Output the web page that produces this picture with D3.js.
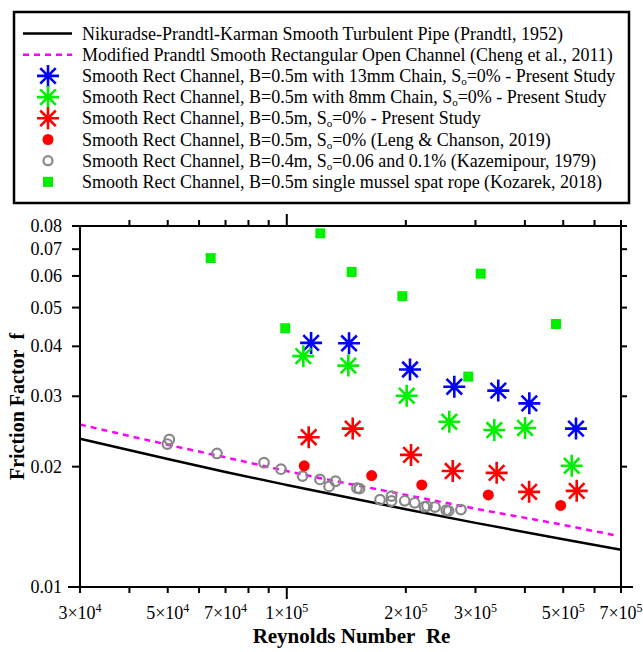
<!DOCTYPE html>
<html><head><meta charset="utf-8">
<script src="https://cdn.jsdelivr.net/npm/d3@7"></script>
<style>
html,body{margin:0;padding:0;background:#fff;}
svg{display:block;font-family:"Liberation Serif","Times New Roman",serif;}
</style></head>
<body>
<svg id="chart" width="643" height="652"></svg>
<script>
// ---- data ----
const reLine = [3e4, 5e4, 7e4, 1e5, 2e5, 3e5, 5e5, 7e5];
const fPrandtl = [0.0235, 0.0209, 0.0194, 0.0180, 0.01565, 0.01447, 0.01316, 0.01239];
const reCheng = [3e4, 5e4, 7e4, 1e5, 2e5, 3e5, 5e5, 6.8e5];
const fCheng = [0.0255, 0.0227, 0.0211, 0.0195, 0.0170, 0.0157, 0.0143, 0.01345];

const reChain13 = [115200, 143700, 204900, 265200, 342600, 410500, 538600];
const fChain13  = [0.0408, 0.0407, 0.0350, 0.0317, 0.0310, 0.0288, 0.0249];

const reChain8 = [110100, 143100, 201000, 257600, 334700, 400400, 525400];
const fChain8  = [0.0378, 0.0358, 0.0301, 0.0259, 0.0247, 0.0250, 0.0201];

const reSmooth = [113600, 146800, 206100, 262800, 339400, 409900, 540900];
const fSmooth  = [0.0237, 0.0249, 0.0214, 0.0195, 0.0193, 0.0173, 0.0174];

const reLeng = [110700, 163900, 219400, 323300, 492700];
const fLeng  = [0.0201, 0.0190, 0.0180, 0.0170, 0.0160];

const reKaz = [49880, 50460, 66600, 87580, 96700, 109600, 121300, 127900, 132800, 150500, 152700,
               172100, 184000, 184000, 198700, 210600, 222900, 226200, 237000, 253100, 256600, 275700];
const fKaz  = [0.02278, 0.02339, 0.02158, 0.02046, 0.01971, 0.01894, 0.01858, 0.01785, 0.01839, 0.01767, 0.01762,
               0.01654, 0.01688, 0.01641, 0.01643, 0.01624, 0.01587, 0.01594, 0.01585, 0.01556, 0.01550, 0.01562];

const reKoz = [64200, 99100, 121600, 145900, 196000, 287700, 309300, 479500];
const fKoz  = [0.0665, 0.0444, 0.0767, 0.0614, 0.0534, 0.0336, 0.0608, 0.0455];

const xTicks = [3e4, 4e4, 5e4, 6e4, 7e4, 8e4, 9e4, 1e5, 2e5, 3e5, 4e5, 5e5, 6e5, 7e5];
const xTickLabels = [[3e4, "3", "4"], [5e4, "5", "4"], [7e4, "7", "4"], [1e5, "1", "5"],
                     [2e5, "2", "5"], [3e5, "3", "5"], [5e5, "5", "5"], [7e5, "7", "5"]];
const yTicks = [0.01, 0.02, 0.03, 0.04, 0.05, 0.06, 0.07, 0.08];
const yTickLabels = ["0.01", "0.02", "0.03", "0.04", "0.05", "0.06", "0.07", "0.08"];

const legendLabels = [
  "Nikuradse-Prandtl-Karman Smooth Turbulent Pipe (Prandtl, 1952)",
  "Modified Prandtl Smooth Rectangular Open Channel (Cheng et al., 2011)",
  ["Smooth Rect Channel, B=0.5m with 13mm Chain, S", "o", "=0% - Present Study"],
  ["Smooth Rect Channel, B=0.5m with 8mm Chain, S", "o", "=0% - Present Study"],
  ["Smooth Rect Channel, B=0.5m, S", "o", "=0% - Present Study"],
  ["Smooth Rect Channel, B=0.5m, S", "o", "=0% (Leng & Chanson, 2019)"],
  ["Smooth Rect Channel, B=0.4m, S", "o", "=0.06 and 0.1% (Kazemipour, 1979)"],
  "Smooth Rect Channel, B=0.5m single mussel spat rope (Kozarek, 2018)"
];

// ---- layout ----
const L = 80, R = 621, T = 226, B = 587;
const svg = d3.select("#chart");
const x = d3.scaleLog().domain([3e4, 7e5]).range([L, R]);
const y = d3.scaleLog().domain([0.01, 0.08]).range([B, T]);

const BLUE = "#0000ff", GREEN = "#00f000", RED = "#ff0000", GRAY = "#888888", MAG = "#ff00ff";

function asterisk(sel, color) {
  const r = 11, d = r * Math.SQRT1_2;
  sel.append("path")
    .attr("d", `M${-r},0H${r}M0,${-r}V${r}M${-d},${-d}L${d},${d}M${-d},${d}L${d},${-d}`)
    .attr("stroke", color).attr("stroke-width", 2.6).attr("fill", "none");
}

// ---- lines ----
const line = d3.line().x(d => x(d[0])).y(d => y(d[1])).curve(d3.curveMonotoneX);
svg.append("path").datum(reLine.map((r, i) => [r, fPrandtl[i]]))
  .attr("d", line).attr("fill", "none").attr("stroke", "#000").attr("stroke-width", 2.5);
svg.append("path").datum(reCheng.map((r, i) => [r, fCheng[i]]))
  .attr("d", line).attr("fill", "none").attr("stroke", MAG).attr("stroke-width", 2.5)
  .attr("stroke-dasharray", "6,5");

// ---- markers ----
svg.append("g").selectAll("circle").data(reKaz.map((r, i) => [r, fKaz[i]])).join("circle")
  .attr("cx", d => x(d[0])).attr("cy", d => y(d[1])).attr("r", 4.8)
  .attr("fill", "none").attr("stroke", GRAY).attr("stroke-width", 2.2);
svg.append("g").selectAll("circle").data(reLeng.map((r, i) => [r, fLeng[i]])).join("circle")
  .attr("cx", d => x(d[0])).attr("cy", d => y(d[1])).attr("r", 5.5).attr("fill", RED);
svg.append("g").selectAll("rect").data(reKoz.map((r, i) => [r, fKoz[i]])).join("rect")
  .attr("x", d => x(d[0]) - 5).attr("y", d => y(d[1]) - 5).attr("width", 10).attr("height", 10)
  .attr("fill", GREEN);
[[reChain13, fChain13, BLUE], [reChain8, fChain8, GREEN], [reSmooth, fSmooth, RED]].forEach(([rs, fs, c]) => {
  svg.append("g").selectAll("g").data(rs.map((r, i) => [r, fs[i]])).join("g")
    .attr("transform", d => `translate(${x(d[0])},${y(d[1])})`)
    .each(function () { asterisk(d3.select(this), c); });
});

// ---- axes ----
const axG = svg.append("g").attr("stroke", "#000").attr("stroke-width", 2);
axG.append("rect").attr("x", L).attr("y", T).attr("width", R - L).attr("height", B - T).attr("fill", "none");
xTicks.forEach(t => {
  const major = t === 1e5;
  axG.append("line").attr("x1", x(t)).attr("x2", x(t)).attr("y1", B).attr("y2", B + (major ? 12 : 6));
  if (t !== 3e4) axG.append("line").attr("x1", x(t)).attr("x2", x(t)).attr("y1", T).attr("y2", T - (major ? 12 : 6));
});
yTicks.forEach(t => {
  const major = t === 0.01;
  axG.append("line").attr("x1", L).attr("x2", L - (major ? 12 : 8)).attr("y1", y(t)).attr("y2", y(t));
  axG.append("line").attr("x1", R).attr("x2", R + (major ? 12 : 6)).attr("y1", y(t)).attr("y2", y(t));
});

// tick labels
yTicks.forEach((t, i) => {
  svg.append("text").attr("x", 62).attr("y", y(t) + 6).attr("text-anchor", "end")
    .attr("font-size", 18).text(yTickLabels[i]);
});
xTickLabels.forEach(([v, m, e]) => {
  const tx = svg.append("text").attr("x", x(v)).attr("y", 619).attr("text-anchor", "middle").attr("font-size", 18);
  tx.append("tspan").text(m + "\u00d710");
  tx.append("tspan").attr("dy", -7).attr("font-size", 12).text(e);
});

// axis titles
svg.append("text").attr("x", (L + R) / 2 + 1).attr("y", 643).attr("text-anchor", "middle")
  .attr("font-size", 21).attr("font-weight", "bold")
  .text("Reynolds Number\u00a0\u00a0Re");
svg.append("text").attr("transform", `translate(24,${(T + B) / 2}) rotate(-90)`).attr("text-anchor", "middle")
  .attr("font-size", 20).attr("font-weight", "bold").text("Friction Factor\u00a0\u00a0f");

// ---- legend ----
const lg = svg.append("g");
lg.append("rect").attr("x", 14).attr("y", 12).attr("width", 615).attr("height", 191)
  .attr("fill", "#fff").attr("stroke", "#000").attr("stroke-width", 2.5);
const rowY = i => 33.5 + i * 21.2;
legendLabels.forEach((lab, i) => {
  const t = lg.append("text").attr("x", 82).attr("y", rowY(i) + 6).attr("font-size", 18);
  if (typeof lab === "string") t.text(lab);
  else {
    t.append("tspan").text(lab[0]);
    t.append("tspan").attr("dy", 3).attr("font-size", 11).text(lab[1]);
    t.append("tspan").attr("dy", -3).text(lab[2]);
  }
});
lg.append("line").attr("x1", 23).attr("x2", 72).attr("y1", rowY(0)).attr("y2", rowY(0))
  .attr("stroke", "#000").attr("stroke-width", 2.5);
lg.append("line").attr("x1", 23).attr("x2", 72).attr("y1", rowY(1)).attr("y2", rowY(1))
  .attr("stroke", MAG).attr("stroke-width", 2.5).attr("stroke-dasharray", "6,5");
[BLUE, GREEN, RED].forEach((c, k) => {
  asterisk(lg.append("g").attr("transform", `translate(48,${rowY(2 + k)})`), c);
});
lg.append("circle").attr("cx", 48).attr("cy", rowY(5)).attr("r", 5.5).attr("fill", RED);
lg.append("circle").attr("cx", 48).attr("cy", rowY(6)).attr("r", 4.5).attr("fill", "none")
  .attr("stroke", GRAY).attr("stroke-width", 2.2);
lg.append("rect").attr("x", 43).attr("y", rowY(7) - 5).attr("width", 10).attr("height", 10).attr("fill", GREEN);
</script>
</body></html>
